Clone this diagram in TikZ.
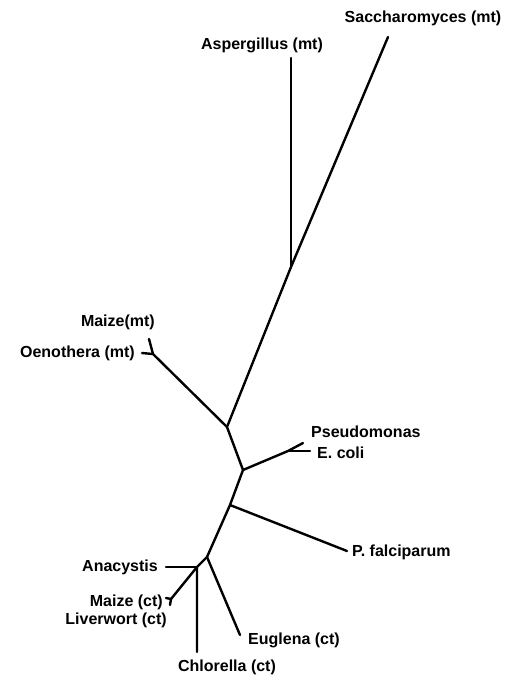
\documentclass[tikz,border=0pt]{standalone}
\usepackage{fontspec}
\setmainfont{Liberation Sans}
\begin{document}
\begin{tikzpicture}[x=1pt,y=-1pt,
  branch/.style={line width=2.4pt,line cap=round,line join=round},
  lab/.style={font=\fontsize{16}{18}\selectfont\bfseries,inner sep=0pt}]
\useasboundingbox (0,0) rectangle (517,678);
% tree vertices
\coordinate (S) at (388,37);
\coordinate (A) at (291,58);
\coordinate (n1) at (291,267);
\coordinate (n2) at (227,427);
\coordinate (n3) at (153,354);
\coordinate (Mm) at (149,339);
\coordinate (Oe) at (142,353);
\coordinate (n4) at (243,470);
\coordinate (n5) at (288,451);
\coordinate (Ps) at (303,443);
\coordinate (Ec) at (310,451);
\coordinate (n6) at (230,505);
\coordinate (Pf) at (347,551);
\coordinate (n7) at (207,557);
\coordinate (Eu) at (240,635);
\coordinate (n8) at (197,567);
\coordinate (An) at (166,567);
\coordinate (Ch) at (197,652);
\coordinate (n9) at (171,599);
\coordinate (Mc) at (166,598);
\coordinate (Lw) at (170,605);
% branches
\draw[branch] (S) -- (n1) -- (n2) -- (n4) -- (n6) -- (n7) -- (n8) -- (Ch);
\draw[branch] (A) -- (n1);
\draw[branch] (n2) -- (n3) -- (Mm);
\draw[branch] (n3) -- (Oe);
\draw[branch] (n4) -- (n5) -- (Ps);
\draw[branch] (n5) -- (Ec);
\draw[branch] (n6) -- (Pf);
\draw[branch] (n7) -- (Eu);
\draw[branch] (n8) -- (An);
\draw[branch] (n8) -- (n9) -- (Mc);
\draw[branch] (n9) -- (Lw);
% labels
\node[lab] (lS) at (423,18) {Saccharomyces (mt)};
\node[lab] (lA) at (262,45) {Aspergillus (mt)};
\node[lab,anchor=east] (lMm) at (155,322) {Maize(mt)};
\node[lab,anchor=east] (lOe) at (135,353) {Oenothera (mt)};
\node[lab,anchor=west] (lPs) at (311,432) {Pseudomonas};
\node[lab,anchor=west] (lEc) at (317,453) {E. coli};
\node[lab,anchor=west] (lPf) at (352,552) {P. falciparum};
\node[lab,anchor=east] (lAn) at (158,567) {Anacystis};
\node[lab,anchor=east] (lMc) at (163,602) {Maize (ct)};
\node[lab,anchor=east] (lLw) at (167,620) {Liverwort (ct)};
\node[lab,anchor=west] (lEu) at (248,640) {Euglena (ct)};
\node[lab] (lCh) at (227,667) {Chlorella (ct)};
\end{tikzpicture}
\end{document}
